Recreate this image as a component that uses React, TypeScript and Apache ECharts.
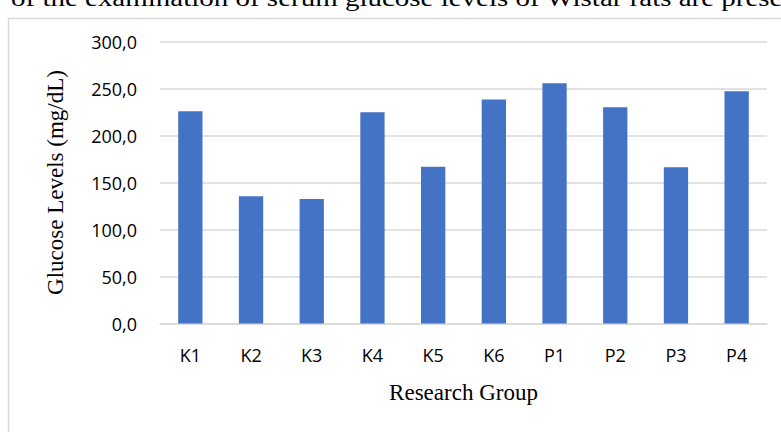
import React, { useEffect, useRef } from "react";
import * as echarts from "echarts";

const categories = ["K1", "K2", "K3", "K4", "K5", "K6", "P1", "P2", "P3", "P4"];
const glucose = [225.8, 135.3, 132.4, 224.8, 166.8, 238.2, 255.7, 230.1, 166.2, 247.2];
const yTicks = { min: 0, max: 300, interval: 50 };
const xName = "Research Group";
const yName = "Glucose Levels (mg/dL)";
const topText = "of the examination of serum glucose levels of Wistar rats are presented";

export default function App() {
  const ref = useRef<HTMLDivElement>(null);
  useEffect(() => {
    const chart = echarts.init(ref.current!, null, { renderer: "svg" });
    chart.setOption({
      animation: false,
      backgroundColor: "#ffffff",
      graphic: [
        {
          type: "rect",
          shape: { x: 8.5, y: 18.5, width: 820, height: 460 },
          style: { fill: "none", stroke: "#d9d9d9", lineWidth: 1.5 },
          silent: true,
        },
        {
          type: "text",
          x: 11,
          y: 10,
          scaleX: 1.26,
          style: {
            text: topText,
            font: '23px "Liberation Serif"',
            fill: "#000000",
            verticalAlign: "bottom",
            align: "left",
          },
        },
      ],
      grid: { left: 160, right: 14, top: 41.5, bottom: 108.5 },
      xAxis: {
        type: "category",
        data: categories,
        axisLine: { show: true, lineStyle: { color: "#d9d9d9", width: 1.5 } },
        axisTick: { show: false },
        axisLabel: {
          margin: 22,
          fontFamily: "Open Sans",
          fontSize: 18,
          color: "#000000",
        },
        name: xName,
        nameLocation: "middle",
        nameGap: 57,
        nameTextStyle: { fontFamily: "Liberation Serif", fontSize: 23, color: "#000000" },
      },
      yAxis: {
        type: "value",
        min: yTicks.min,
        max: yTicks.max,
        interval: yTicks.interval,
        axisLine: { show: false },
        axisTick: { show: false },
        splitLine: { lineStyle: { color: "#d9d9d9", width: 1.5 } },
        axisLabel: {
          margin: 23,
          fontFamily: "Open Sans",
          fontSize: 18,
          color: "#000000",
          formatter: (v: number) => v.toFixed(1).replace(".", ","),
        },
        name: yName,
        nameLocation: "middle",
        nameGap: 93,
        nameRotate: 90,
        nameTextStyle: { fontFamily: "Liberation Serif", fontSize: 23, color: "#000000" },
      },
      series: [
        {
          type: "bar",
          data: glucose,
          barWidth: "40%",
          itemStyle: { color: "#4472c4" },
        },
      ],
    });
    return () => chart.dispose();
  }, []);
  return (
    <div
      ref={ref}
      style={{ position: "fixed", left: 0, top: 0, width: 781, height: 432 }}
    />
  );
}
